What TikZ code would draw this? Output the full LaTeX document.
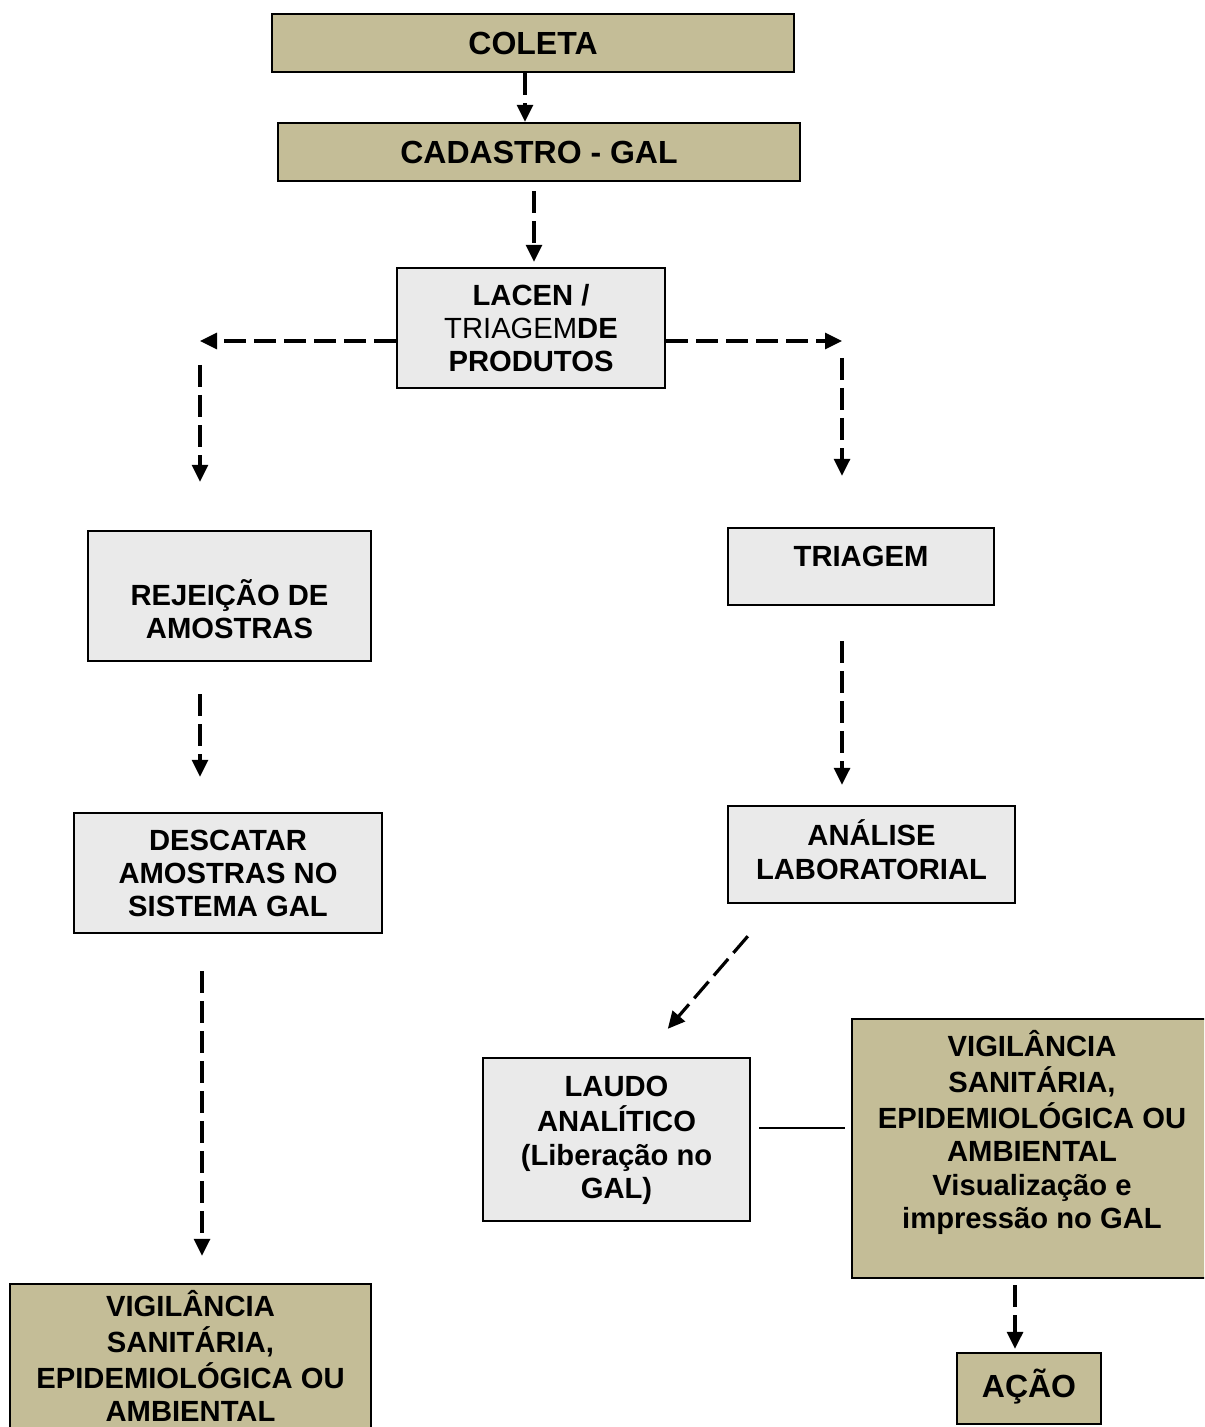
\documentclass[tikz,border=0pt]{standalone}
\usepackage{fontspec}
\setmainfont{Liberation Sans}
\usetikzlibrary{arrows.meta,positioning}
\definecolor{bege}{HTML}{C4BD97}
\definecolor{cinza}{HTML}{EAEAEA}
\newcommand\rotulo[2]{\raisebox{#1}[\height][\depth]{\begin{tabular}{@{}c@{}}#2\end{tabular}}}

\begin{document}
\begin{tikzpicture}[x=0.5pt,y=-0.5pt,
  caixa/.style={draw,line width=1.2pt,inner sep=0pt,font=\bfseries\fontsize{14.6}{16.6}\selectfont},
  caixabege/.style={caixa,fill=bege},
  caixacinza/.style={caixa,fill=cinza},
  grande/.style={font=\bfseries\fontsize{16}{19}\selectfont},
  seta/.style={line width=1.6pt,dash pattern=on 11pt off 4pt,-{Triangle[length=8.5pt,width=8pt]}},
  linha/.style={line width=1pt}]
  \useasboundingbox (0,0) rectangle (1204,1427);
  \clip (0,0) rectangle (1204,1427);

  % caixas
  \node[caixabege,grande,minimum width=261pt,minimum height=29pt] (coleta) at (533,43) {\rotulo{-2pt}{COLETA}};
  \node[caixabege,grande,minimum width=261pt,minimum height=29pt] (cadastro) at (539,152) {\rotulo{-2pt}{CADASTRO - GAL}};
  \node[caixacinza,minimum width=134pt,minimum height=60pt] (lacen) at (531,328) {\rotulo{-2pt}{LACEN /\\{\mdseries TRIAGEM}DE\\PRODUTOS}};
  \node[caixacinza,minimum width=141.5pt,minimum height=65pt] (rejeicao) at (229.5,596) {\rotulo{-9pt}{REJEIÇÃO DE\\AMOSTRAS}};
  \node[caixacinza,minimum width=133pt,minimum height=38.5pt] (triagem) at (861,566.5) {\rotulo{3.5pt}{TRIAGEM}};
  \node[caixacinza,minimum width=154pt,minimum height=60pt] (descartar) at (228,873) {\rotulo{-2pt}{DESCATAR\\AMOSTRAS NO\\SISTEMA GAL}};
  \node[caixacinza,minimum width=143.5pt,minimum height=48.5pt] (analise) at (871.5,854.5) {\rotulo{0pt}{ANÁLISE\\LABORATORIAL}};
  \node[caixacinza,minimum width=133.5pt,minimum height=81.5pt] (laudo) at (616.5,1139.5) {\rotulo{-0.5pt}{LAUDO\\ANALÍTICO\\(Liberação no\\GAL)}};
  \node[caixabege,minimum width=180pt,minimum height=129.5pt] (vigdir) at (1032,1148.5) {\rotulo{7pt}{VIGILÂNCIA\\SANITÁRIA,\\EPIDEMIOLÓGICA OU\\AMBIENTAL\\Visualização e\\impressão no GAL}};
  \node[caixabege,minimum width=180.5pt,minimum height=88pt] (vigesq) at (190.5,1372) {\rotulo{5.5pt}{VIGILÂNCIA\\SANITÁRIA,\\EPIDEMIOLÓGICA OU\\AMBIENTAL}};
  \node[caixabege,grande,minimum width=72pt,minimum height=35.5pt] (acao) at (1029,1388.5) {\rotulo{0pt}{AÇÃO}};

  % ramos
  \coordinate (ramoesq) at (200,341);
  \coordinate (ramodir) at (842,341);

  % setas
  \draw[seta] (coleta.south -| 525,0) -- (cadastro.north -| 525,0);
  \draw[seta,shorten <=4.5pt,shorten >=2.5pt] (cadastro.south -| 534,0) -- (lacen.north -| 534,0);
  \draw[seta] (lacen.west |- ramoesq) -- (ramoesq);
  \draw[seta] (lacen.east |- ramodir) -- (ramodir);
  \draw[seta,shorten <=12pt,shorten >=24pt] (ramoesq) -- (ramoesq |- rejeicao.north);
  \draw[seta,shorten <=8.5pt,shorten >=25.5pt] (ramodir) -- (ramodir |- triagem.north);
  \draw[seta,shorten <=16pt,shorten >=17.5pt] (rejeicao.south -| ramoesq) -- (descartar.north -| ramoesq);
  \draw[seta,shorten <=18.5pt,shorten >=13.5pt] (descartar.south -| 202,0) -- (vigesq.north -| 202,0);
  \draw[seta,shorten <=17.5pt,shorten >=10pt] (triagem.south -| ramodir) -- (analise.north -| ramodir);
  \draw[seta] ([shift={(21,32)}]analise.south west) -- ([shift={(186,-28)}]laudo.north west);
  \draw[linha,shorten <=4pt,shorten >=3pt] ([yshift=6pt]laudo.east) -- ([yshift=6pt]laudo.east -| vigdir.west);
  \draw[seta,shorten <=3pt,shorten >=1.5pt] (vigdir.south -| 1015,0) -- (acao.north -| 1015,0);
\end{tikzpicture}
\end{document}
